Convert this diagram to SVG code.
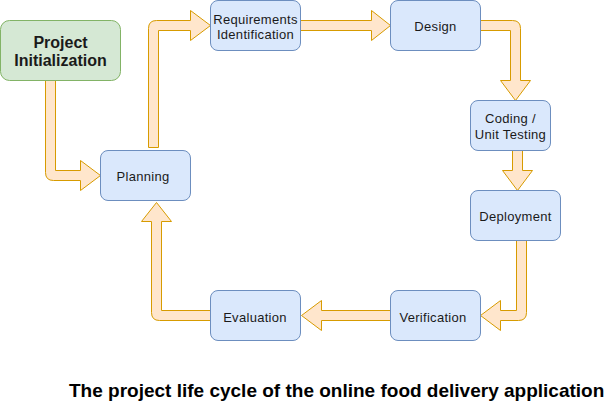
<svg xmlns="http://www.w3.org/2000/svg" width="611" height="406" viewBox="0 0 611 406">
<style>
.n rect{fill:#dae8fc;stroke:#6c8ebf;stroke-width:1}
.g rect{fill:#d5e8d4;stroke:#82b366;stroke-width:1}
text{font-family:"Liberation Sans",Arial,sans-serif;font-size:13px;letter-spacing:0.3px;fill:#1a1a1a;text-anchor:middle}
.b{font-weight:bold;font-size:16px;letter-spacing:0}
.t{font-weight:bold;font-size:19px;letter-spacing:0;fill:#000;text-anchor:start}
#connectors path{fill:#ffe6cc;stroke:#d79b00;stroke-width:1;stroke-linejoin:miter}
</style>
<rect width="611" height="406" fill="#fff"/>
<g id="connectors">
<path d="M45.5,80.5 L55.5,80.5 L55.5,170.5 L80.5,170.5 L80.5,160.5 L100.5,175.5 L80.5,190.5 L80.5,180.5 L53.5,180.5 Q45.5,180.5 45.5,172.5 Z"/>
<path d="M148.5,147.5 L148.5,28.5 Q148.5,20.5 156.5,20.5 L190.5,20.5 L190.5,10.5 L210.5,25.5 L190.5,40.5 L190.5,30.5 L158.5,30.5 L158.5,147.5 Z"/>
<path d="M300.5,20.5 L371.5,20.5 L371.5,10.5 L390.5,25.5 L371.5,40.5 L371.5,30.5 L300.5,30.5 Z"/>
<path d="M480.5,20.5 L512.5,20.5 Q520.5,20.5 520.5,28.5 L520.5,80.5 L530.5,80.5 L515.5,100.5 L500.5,80.5 L510.5,80.5 L510.5,30.5 L480.5,30.5 Z"/>
<path d="M512.5,150.5 L522.5,150.5 L522.5,170.5 L532.5,170.5 L517.5,190.5 L502.5,170.5 L512.5,170.5 Z"/>
<path d="M516.5,240.5 L526.5,240.5 L526.5,312.5 Q526.5,320.5 518.5,320.5 L500.5,320.5 L500.5,330.5 L480.5,315.5 L500.5,300.5 L500.5,310.5 L516.5,310.5 Z"/>
<path d="M390.5,310.5 L321.5,310.5 L321.5,300.5 L301.5,315.5 L321.5,330.5 L321.5,320.5 L390.5,320.5 Z"/>
<path d="M210.5,310.5 L161.5,310.5 L161.5,221.5 L171.5,221.5 L156.5,202.5 L141.5,221.5 L151.5,221.5 L151.5,312.5 Q151.5,320.5 159.5,320.5 L210.5,320.5 Z"/>
</g>
<g id="project-initialization" class="g"><rect x="0.5" y="20.5" width="120" height="60" rx="9"/><text class="b" x="60.5" y="47.5">Project</text><text class="b" x="60.5" y="66">Initialization</text></g>
<g id="planning" class="n"><rect x="100.5" y="150.5" width="90" height="50" rx="7.5"/><text x="143" y="181">Planning</text></g>
<g id="requirements-identification" class="n"><rect x="210.5" y="0.5" width="90" height="50" rx="7.5"/><text x="255.5" y="23.5">Requirements</text><text x="255.5" y="39">Identification</text></g>
<g id="design" class="n"><rect x="390.5" y="0.5" width="90" height="50" rx="7.5"/><text x="435.5" y="31">Design</text></g>
<g id="coding-unit-testing" class="n"><rect x="470.5" y="100.5" width="80" height="50" rx="7.5"/><text x="510.5" y="123">Coding /</text><text x="510.5" y="138.5">Unit Testing</text></g>
<g id="deployment" class="n"><rect x="470.5" y="190.5" width="90" height="50" rx="7.5"/><text x="515.5" y="221">Deployment</text></g>
<g id="verification" class="n"><rect x="390.5" y="290.5" width="90" height="50" rx="7.5"/><text x="433" y="321.5">Verification</text></g>
<g id="evaluation" class="n"><rect x="210.5" y="290.5" width="90" height="50" rx="7.5"/><text x="255" y="321.5">Evaluation</text></g>
<text class="t" x="69" y="397">The project life cycle of the online food delivery application</text>
</svg>
